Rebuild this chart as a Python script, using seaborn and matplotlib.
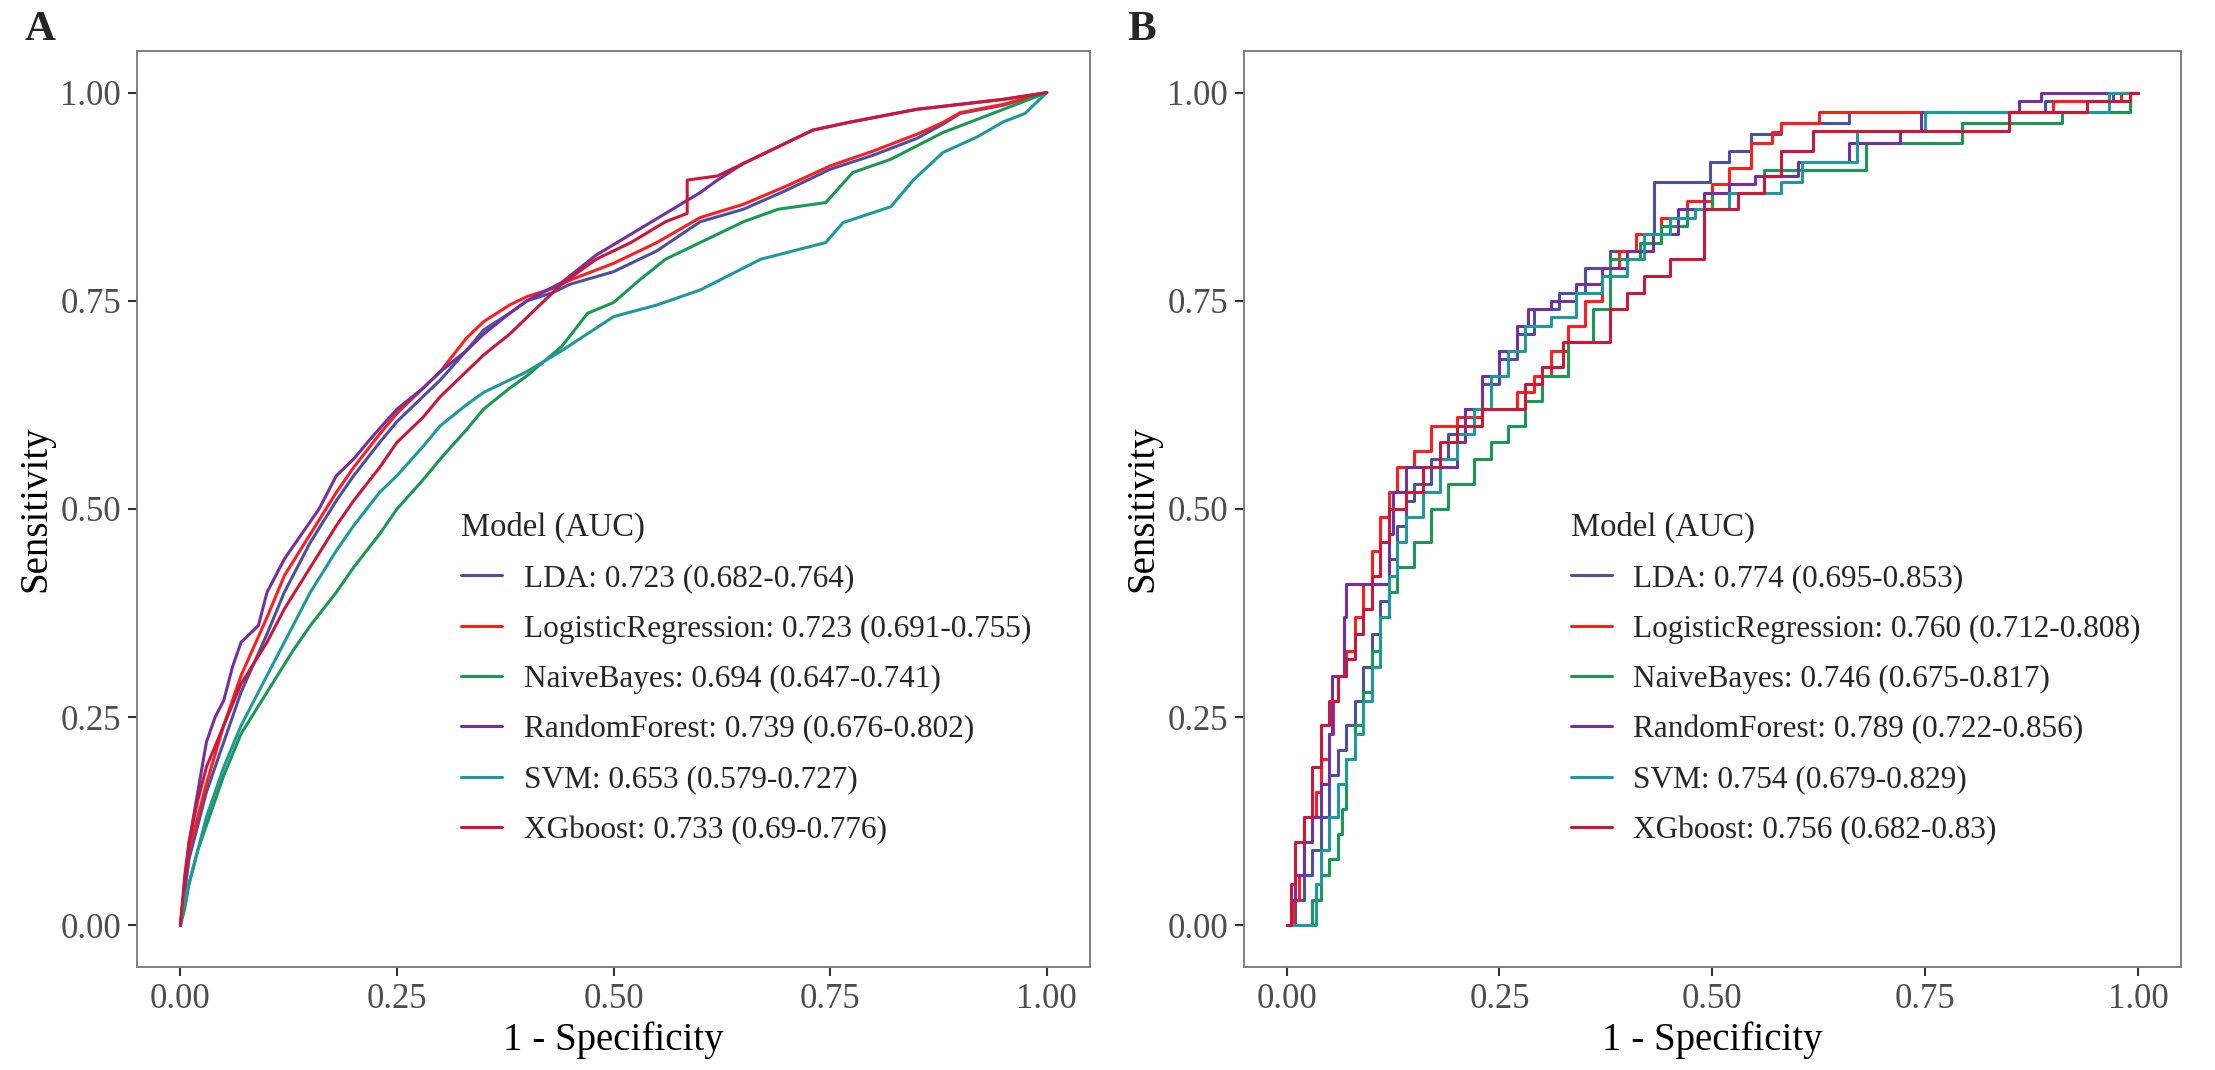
import matplotlib
matplotlib.use("Agg")
import matplotlib.pyplot as plt
import seaborn as sns
import pandas as pd

# ---------------- data ----------------
models = ["LDA", "LogisticRegression", "NaiveBayes", "RandomForest", "SVM", "XGboost"]
colors = ["#4B50A6", "#FF1E1E", "#1A9952", "#7530A0", "#1E9A9A", "#CC1838"]

auc_A = ["0.723 (0.682-0.764)", "0.723 (0.691-0.755)", "0.694 (0.647-0.741)",
         "0.739 (0.676-0.802)", "0.653 (0.579-0.727)", "0.733 (0.69-0.776)"]
auc_B = ["0.774 (0.695-0.853)", "0.760 (0.712-0.808)", "0.746 (0.675-0.817)",
         "0.789 (0.722-0.856)", "0.754 (0.679-0.829)", "0.756 (0.682-0.83)"]

# Panel A (training set) ROC points
A_LDA_x = [0, 0.005, 0.01, 0.02, 0.03, 0.05, 0.07, 0.1, 0.12, 0.15, 0.18, 0.2, 0.23, 0.25, 0.28, 0.3, 0.33, 0.35, 0.38, 0.4, 0.43, 0.45, 0.5, 0.55, 0.6, 0.65, 0.7, 0.75, 0.8, 0.85, 0.88, 0.9, 0.95, 1.0]
A_LDA_y = [0, 0.04, 0.08, 0.12, 0.16, 0.22, 0.28, 0.35, 0.40, 0.46, 0.51, 0.54, 0.58, 0.605, 0.635, 0.655, 0.69, 0.715, 0.735, 0.75, 0.76, 0.77, 0.785, 0.81, 0.845, 0.86, 0.883, 0.908, 0.925, 0.945, 0.962, 0.975, 0.985, 1.0]
A_LR_x = [0, 0.005, 0.01, 0.02, 0.03, 0.05, 0.07, 0.1, 0.12, 0.15, 0.18, 0.2, 0.23, 0.25, 0.28, 0.3, 0.33, 0.35, 0.38, 0.4, 0.43, 0.45, 0.5, 0.55, 0.6, 0.65, 0.7, 0.75, 0.8, 0.85, 0.88, 0.9, 0.95, 1.0]
A_LR_y = [0, 0.05, 0.09, 0.13, 0.17, 0.24, 0.30, 0.37, 0.42, 0.47, 0.52, 0.55, 0.59, 0.615, 0.645, 0.665, 0.705, 0.725, 0.745, 0.755, 0.765, 0.775, 0.795, 0.82, 0.85, 0.866, 0.888, 0.912, 0.93, 0.95, 0.964, 0.976, 0.986, 1.0]
A_NB_x = [0, 0.005, 0.01, 0.02, 0.03, 0.05, 0.07, 0.1, 0.13, 0.15, 0.18, 0.2, 0.23, 0.25, 0.28, 0.3, 0.33, 0.35, 0.38, 0.4, 0.44, 0.47, 0.5, 0.53, 0.56, 0.6, 0.65, 0.69, 0.745, 0.776, 0.82, 0.88, 0.94, 1.0]
A_NB_y = [0, 0.02, 0.05, 0.09, 0.12, 0.18, 0.23, 0.28, 0.33, 0.36, 0.40, 0.43, 0.47, 0.50, 0.535, 0.56, 0.595, 0.62, 0.645, 0.66, 0.695, 0.735, 0.748, 0.775, 0.80, 0.82, 0.845, 0.86, 0.868, 0.904, 0.92, 0.952, 0.976, 1.0]
A_RF_x = [0, 0.005, 0.01, 0.02, 0.03, 0.04, 0.05, 0.06, 0.07, 0.09, 0.1, 0.12, 0.14, 0.16, 0.18, 0.2, 0.22, 0.25, 0.28, 0.3, 0.33, 0.35, 0.38, 0.4, 0.44, 0.48, 0.52, 0.56, 0.6, 0.62, 0.65, 0.7, 0.73, 0.77, 0.85, 0.9, 0.95, 1.0]
A_RF_y = [0, 0.05, 0.1, 0.16, 0.22, 0.25, 0.27, 0.31, 0.34, 0.36, 0.40, 0.44, 0.47, 0.50, 0.54, 0.56, 0.585, 0.62, 0.645, 0.665, 0.69, 0.71, 0.735, 0.75, 0.772, 0.805, 0.83, 0.855, 0.88, 0.895, 0.915, 0.94, 0.955, 0.964, 0.98, 0.986, 0.992, 1.0]
A_SVM_x = [0, 0.005, 0.01, 0.02, 0.03, 0.05, 0.07, 0.1, 0.13, 0.15, 0.18, 0.2, 0.23, 0.25, 0.28, 0.3, 0.33, 0.35, 0.38, 0.4, 0.44, 0.5, 0.55, 0.6, 0.67, 0.745, 0.765, 0.82, 0.846, 0.88, 0.92, 0.95, 0.975, 1.0]
A_SVM_y = [0, 0.03, 0.05, 0.09, 0.13, 0.19, 0.24, 0.30, 0.36, 0.40, 0.45, 0.48, 0.52, 0.54, 0.575, 0.60, 0.625, 0.64, 0.655, 0.665, 0.69, 0.731, 0.745, 0.763, 0.80, 0.82, 0.844, 0.863, 0.895, 0.928, 0.947, 0.965, 0.975, 1.0]
A_XGB_x = [0, 0.005, 0.01, 0.02, 0.03, 0.05, 0.07, 0.1, 0.12, 0.15, 0.18, 0.2, 0.23, 0.25, 0.28, 0.3, 0.33, 0.35, 0.38, 0.4, 0.44, 0.48, 0.52, 0.56, 0.585, 0.585, 0.62, 0.65, 0.7, 0.73, 0.77, 0.85, 0.9, 0.95, 1.0]
A_XGB_y = [0, 0.06, 0.1, 0.15, 0.19, 0.24, 0.29, 0.34, 0.38, 0.43, 0.48, 0.51, 0.55, 0.58, 0.61, 0.635, 0.665, 0.685, 0.71, 0.73, 0.77, 0.80, 0.82, 0.845, 0.855, 0.895, 0.9, 0.915, 0.94, 0.955, 0.964, 0.98, 0.986, 0.992, 1.0]

# Panel B (validation set) ROC step corners (value holds until the next x)
B_LDA_x = [0, 0.01, 0.02, 0.03, 0.04, 0.05, 0.06, 0.07, 0.08, 0.09, 0.10, 0.11, 0.12, 0.13, 0.14, 0.15, 0.17, 0.19, 0.21, 0.23, 0.25, 0.27, 0.29, 0.32, 0.35, 0.38, 0.41, 0.432, 0.497, 0.52, 0.545, 0.58, 0.66, 0.89, 0.97, 1.0]
B_LDA_y = [0, 0.03, 0.06, 0.09, 0.13, 0.18, 0.21, 0.24, 0.27, 0.31, 0.35, 0.39, 0.44, 0.48, 0.51, 0.53, 0.56, 0.59, 0.62, 0.65, 0.68, 0.71, 0.74, 0.76, 0.79, 0.81, 0.83, 0.893, 0.917, 0.93, 0.95, 0.964, 0.977, 0.99, 1.0, 1.0]
B_LR_x = [0, 0.008, 0.015, 0.02, 0.035, 0.04, 0.05, 0.055, 0.06, 0.07, 0.08, 0.09, 0.10, 0.11, 0.12, 0.13, 0.15, 0.17, 0.2, 0.23, 0.27, 0.29, 0.31, 0.33, 0.35, 0.37, 0.39, 0.41, 0.44, 0.47, 0.5, 0.52, 0.545, 0.57, 0.58, 0.625, 0.90, 0.98, 1.0]
B_LR_y = [0, 0.03, 0.06, 0.13, 0.16, 0.20, 0.23, 0.27, 0.30, 0.33, 0.37, 0.41, 0.45, 0.49, 0.52, 0.55, 0.57, 0.60, 0.61, 0.62, 0.64, 0.66, 0.69, 0.72, 0.75, 0.79, 0.81, 0.83, 0.85, 0.87, 0.89, 0.91, 0.94, 0.953, 0.964, 0.977, 0.99, 1.0, 1.0]
B_NB_x = [0, 0.02, 0.03, 0.04, 0.05, 0.06, 0.065, 0.07, 0.08, 0.09, 0.1, 0.11, 0.12, 0.13, 0.15, 0.17, 0.19, 0.22, 0.24, 0.26, 0.28, 0.3, 0.33, 0.36, 0.38, 0.415, 0.44, 0.47, 0.5, 0.56, 0.68, 0.793, 0.91, 0.99, 1.0]
B_NB_y = [0, 0.0, 0.03, 0.06, 0.08, 0.11, 0.14, 0.20, 0.24, 0.28, 0.33, 0.37, 0.40, 0.43, 0.46, 0.50, 0.53, 0.56, 0.58, 0.60, 0.63, 0.66, 0.70, 0.74, 0.80, 0.82, 0.84, 0.86, 0.88, 0.907, 0.94, 0.964, 0.977, 1.0, 1.0]
B_RF_x = [0, 0.005, 0.01, 0.02, 0.03, 0.04, 0.05, 0.053, 0.068, 0.07, 0.11, 0.12, 0.125, 0.14, 0.2, 0.21, 0.23, 0.25, 0.27, 0.284, 0.31, 0.34, 0.37, 0.40, 0.43, 0.46, 0.49, 0.52, 0.55, 0.6, 0.66, 0.72, 0.745, 0.86, 0.886, 1.0]
B_RF_y = [0, 0.03, 0.06, 0.10, 0.13, 0.17, 0.23, 0.30, 0.37, 0.41, 0.41, 0.47, 0.52, 0.55, 0.58, 0.62, 0.66, 0.69, 0.72, 0.74, 0.75, 0.77, 0.79, 0.81, 0.83, 0.86, 0.88, 0.89, 0.90, 0.917, 0.94, 0.954, 0.977, 0.99, 1.0, 1.0]
B_SVM_x = [0, 0.03, 0.035, 0.04, 0.05, 0.06, 0.07, 0.08, 0.09, 0.1, 0.11, 0.12, 0.13, 0.14, 0.16, 0.18, 0.2, 0.22, 0.24, 0.26, 0.28, 0.31, 0.34, 0.37, 0.40, 0.42, 0.45, 0.48, 0.52, 0.58, 0.605, 0.67, 0.75, 0.966, 1.0]
B_SVM_y = [0, 0.0, 0.05, 0.09, 0.13, 0.17, 0.20, 0.23, 0.27, 0.31, 0.37, 0.42, 0.46, 0.49, 0.52, 0.56, 0.59, 0.62, 0.66, 0.69, 0.72, 0.73, 0.76, 0.78, 0.80, 0.83, 0.85, 0.86, 0.88, 0.893, 0.917, 0.954, 0.977, 1.0, 1.0]
B_XGB_x = [0, 0.005, 0.01, 0.02, 0.03, 0.04, 0.05, 0.06, 0.07, 0.08, 0.09, 0.10, 0.11, 0.12, 0.14, 0.16, 0.18, 0.2, 0.23, 0.28, 0.3, 0.325, 0.38, 0.4, 0.42, 0.45, 0.49, 0.53, 0.56, 0.58, 0.618, 0.848, 0.94, 0.99, 1.0]
B_XGB_y = [0, 0.05, 0.10, 0.13, 0.19, 0.24, 0.27, 0.30, 0.32, 0.35, 0.38, 0.42, 0.46, 0.50, 0.52, 0.55, 0.58, 0.60, 0.62, 0.65, 0.67, 0.70, 0.74, 0.76, 0.78, 0.80, 0.86, 0.88, 0.90, 0.93, 0.954, 0.977, 0.99, 1.0, 1.0]

A_x = [A_LDA_x, A_LR_x, A_NB_x, A_RF_x, A_SVM_x, A_XGB_x]
A_y = [A_LDA_y, A_LR_y, A_NB_y, A_RF_y, A_SVM_y, A_XGB_y]
B_x = [B_LDA_x, B_LR_x, B_NB_x, B_RF_x, B_SVM_x, B_XGB_x]
B_y = [B_LDA_y, B_LR_y, B_NB_y, B_RF_y, B_SVM_y, B_XGB_y]

tick_vals = [0, 0.25, 0.5, 0.75, 1.0]
tick_labels = ["0.00", "0.25", "0.50", "0.75", "1.00"]


def build_frame(xs, ys, aucs):
    parts = []
    labels = []
    for m, x, y, a in zip(models, xs, ys, aucs):
        lab = f"{m}: {a}"
        labels.append(lab)
        parts.append(pd.DataFrame({"fpr": x, "tpr": y, "model": lab}))
    return pd.concat(parts, ignore_index=True), labels


# ---------------- style ----------------
sns.set_theme(style="white")
plt.rcParams["font.family"] = ["Liberation Serif", "DejaVu Serif"]

fig = plt.figure(figsize=(22.15, 10.70), dpi=100)
axA = fig.add_axes([0.0619, 0.0963, 0.4302, 0.856])
axB = fig.add_axes([0.5616, 0.0963, 0.4230, 0.856])

panels = [(axA, A_x, A_y, auc_A, None, 0.340),
          (axB, B_x, B_y, auc_B, "steps-post", 0.349)]

for ax, xs, ys, aucs, ds, legx in panels:
    df, labels = build_frame(xs, ys, aucs)
    pal = dict(zip(labels, colors))
    kw = {}
    if ds:
        kw["drawstyle"] = ds
    sns.lineplot(data=df, x="fpr", y="tpr", hue="model", hue_order=labels,
                 palette=pal, estimator=None, sort=False, errorbar=None,
                 linewidth=2.2, ax=ax, **kw)
    ax.set_xlim(-0.05, 1.05)
    ax.set_ylim(-0.05, 1.05)
    ax.set_xticks(tick_vals)
    ax.set_xticklabels(tick_labels)
    ax.set_yticks(tick_vals)
    ax.set_yticklabels(tick_labels)
    ax.tick_params(direction="out", length=6.5, width=1.5, colors="#333333",
                   labelcolor="#4D4D4D", labelsize=25, pad=5,
                   bottom=True, left=True)
    for s in ax.spines.values():
        s.set_color("#7F7F7F")
        s.set_linewidth(1.4)
    ax.set_xlabel("1 - Specificity", fontsize=28, labelpad=4, color="black")
    ax.set_ylabel("Sensitivity", fontsize=28, labelpad=4, color="black")
    sns.move_legend(ax, "upper left", bbox_to_anchor=(legx, 0.497),
                    frameon=False, title="Model (AUC)", fontsize=22.5,
                    title_fontsize=23.5, alignment="left", handlelength=1.3,
                    handletextpad=0.7, labelspacing=0.68, borderpad=0,
                    borderaxespad=0)

fig.text(0.011, 0.99, "A", fontsize=31, fontweight="bold", va="top", ha="left")
fig.text(0.509, 0.99, "B", fontsize=31, fontweight="bold", va="top", ha="left")

fig.savefig("out.png", dpi=100)
